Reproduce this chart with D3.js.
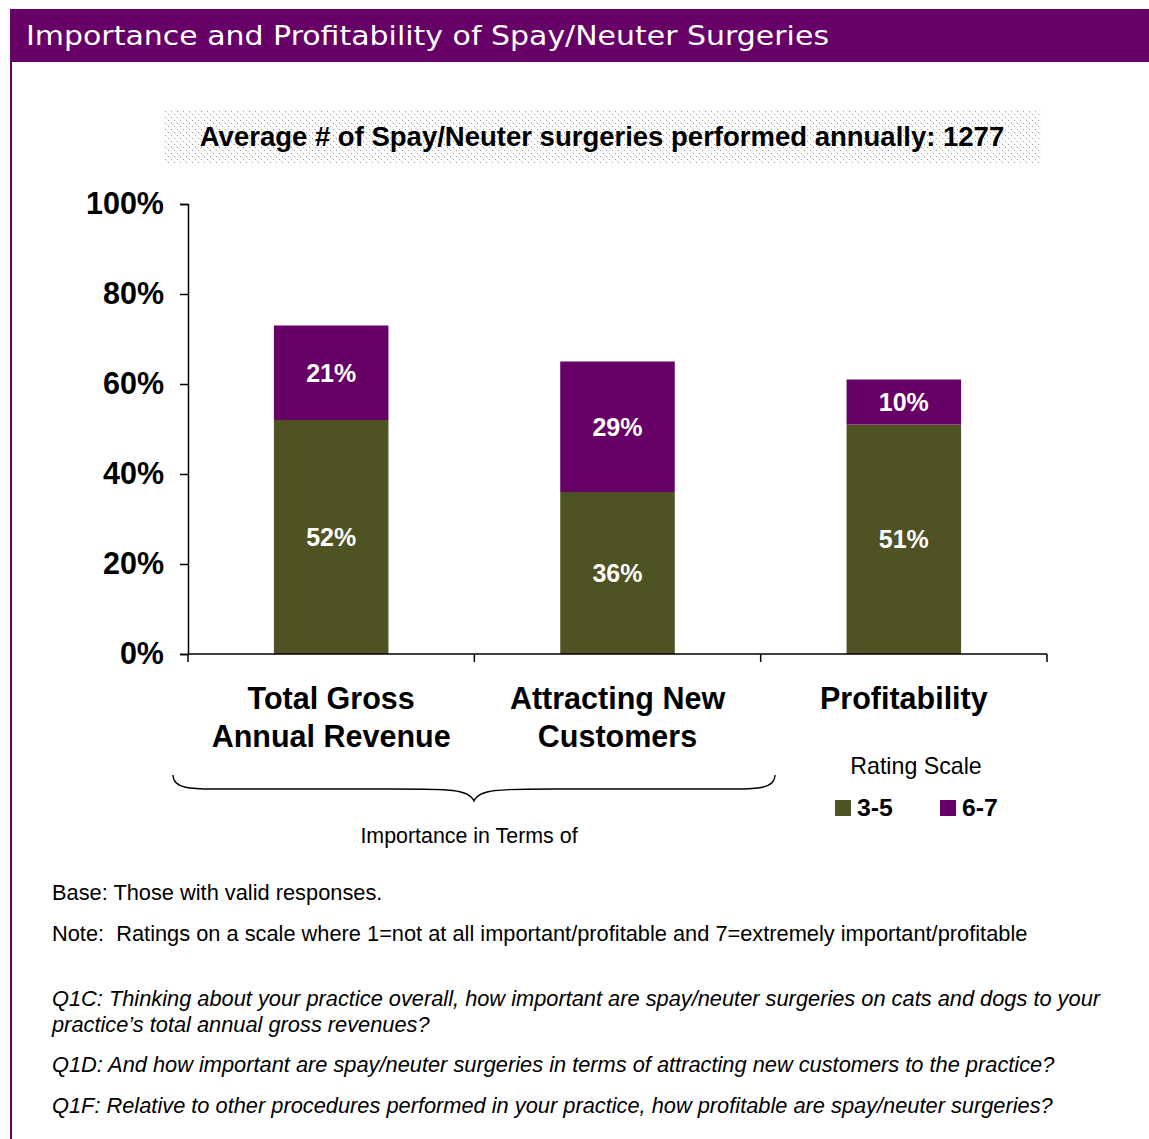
<!DOCTYPE html>
<html><head><meta charset="utf-8">
<script src="https://cdn.jsdelivr.net/npm/d3@7"></script>
<style>
html,body{margin:0;padding:0;background:#fff;}
svg{display:block;}
text{white-space:pre;}
</style></head>
<body>
<script>
const title = "Importance and Profitability of Spay/Neuter Surgeries";
const subtitle = "Average # of Spay/Neuter surgeries performed annually: 1277";
const categories = [["Total Gross","Annual Revenue"],["Attracting New","Customers"],["Profitability"]];
const categoryKeys = ["Total Gross Annual Revenue","Attracting New Customers","Profitability"];
const seriesNames = ["3-5","6-7"];
const values35 = [52,36,51];
const values67 = [21,29,10];
const yTicks = [0,20,40,60,80,100];
const legendTitle = "Rating Scale";
const braceLabel = "Importance in Terms of";
const notes = ["Base: Those with valid responses.",
  "Note:  Ratings on a scale where 1=not at all important/profitable and 7=extremely important/profitable"];
const questions = [
  ["Q1C: Thinking about your practice overall, how important are spay/neuter surgeries on cats and dogs to your","practice’s total annual gross revenues?"],
  ["Q1D: And how important are spay/neuter surgeries in terms of attracting new customers to the practice?"],
  ["Q1F: Relative to other procedures performed in your practice, how profitable are spay/neuter surgeries?"]
];
const colors = ["#4f5222","#660066"];

const W=1149,H=1139;
const svg=d3.select("body").append("svg").attr("width",W).attr("height",H);
const AR="'Liberation Sans', Arial, sans-serif";

// title bar
svg.append("rect").attr("x",10).attr("y",9).attr("width",W-10).attr("height",53).attr("fill","#660066");
svg.append("rect").attr("x",10).attr("y",62).attr("width",2).attr("height",H-62).attr("fill","#660066");
svg.append("text").attr("x",26).attr("y",45).attr("fill","#fff")
  .style("font-family","'DejaVu Sans', Tahoma, sans-serif").style("font-size","27px")
  .attr("textLength",803).attr("lengthAdjust","spacingAndGlyphs").text(title);

// subtitle box with dotted pattern
const defs=svg.append("defs");
const pat=defs.append("pattern").attr("id","dots").attr("patternUnits","userSpaceOnUse").attr("width",6).attr("height",6);
pat.append("rect").attr("width",6).attr("height",6).attr("fill","#fff");
pat.append("rect").attr("x",0).attr("y",0).attr("width",1).attr("height",1).attr("fill","#9a9a9a");
pat.append("rect").attr("x",3).attr("y",3).attr("width",1).attr("height",1).attr("fill","#9a9a9a");
pat.append("rect").attr("x",1.5).attr("y",1.5).attr("width",1).attr("height",1).attr("fill","#d0d0d0");
pat.append("rect").attr("x",4.5).attr("y",4.5).attr("width",1).attr("height",1).attr("fill","#d0d0d0");
svg.append("rect").attr("x",164).attr("y",110).attr("width",877).attr("height",53).attr("fill","url(#dots)");
svg.append("text").attr("x",602).attr("y",146).attr("text-anchor","middle")
  .style("font-family",AR).style("font-weight","bold").style("font-size","27.5px").attr("fill","#000").text(subtitle);

// scales
const y=d3.scaleLinear().domain([0,100]).range([654,204]);
const x=d3.scaleBand().domain(categoryKeys).range([188,1047]).paddingInner(0.6).paddingOuter(0.3);

// y axis
const yAxis=svg.append("g").attr("transform","translate(188,0)")
  .call(d3.axisLeft(y).tickValues(yTicks).tickSize(8).tickPadding(16).tickFormat(d=>d+"%"));
yAxis.select(".domain").attr("stroke","#000").attr("stroke-width",1.5);
yAxis.selectAll(".tick line").attr("stroke","#000").attr("stroke-width",1.5);
yAxis.selectAll(".tick text").style("font-family",AR).style("font-weight","bold").style("font-size","30.5px").attr("fill","#000");

// bars
const g=svg.append("g");
categoryKeys.forEach((k,i)=>{
  const x0=x(k), bw=x.bandwidth();
  const lo=values35[i], hi=values67[i];
  g.append("rect").attr("x",x0).attr("width",bw).attr("y",y(lo)).attr("height",y(0)-y(lo)).attr("fill",colors[0]);
  g.append("rect").attr("x",x0).attr("width",bw).attr("y",y(lo+hi)).attr("height",y(lo)-y(lo+hi)).attr("fill",colors[1]);
  g.append("text").attr("x",x0+bw/2).attr("y",(y(0)+y(lo))/2).attr("dy","0.35em").attr("text-anchor","middle")
    .style("font-family",AR).style("font-weight","bold").style("font-size","25px").attr("fill","#fff").text(lo+"%");
  g.append("text").attr("x",x0+bw/2).attr("y",(y(lo)+y(lo+hi))/2).attr("dy","0.35em").attr("text-anchor","middle")
    .style("font-family",AR).style("font-weight","bold").style("font-size","25px").attr("fill","#fff").text(hi+"%");
});

// x axis line & ticks
svg.append("line").attr("x1",188).attr("x2",1047).attr("y1",y(0)).attr("y2",y(0)).attr("stroke","#000").attr("stroke-width",1.5);
const step=x.step();
[0,1,2,3].forEach(j=>{
  const xx=188+j*step;
  svg.append("line").attr("x1",xx).attr("x2",xx).attr("y1",y(0)).attr("y2",y(0)+8).attr("stroke","#000").attr("stroke-width",1.5);
});

// category labels
categoryKeys.forEach((k,i)=>{
  const cx=x(k)+x.bandwidth()/2;
  const t=svg.append("text").attr("text-anchor","middle").style("font-family",AR).style("font-weight","bold")
    .style("font-size","30.5px").attr("fill","#000");
  categories[i].forEach((ln,j)=>{
    t.append("tspan").attr("x",cx).attr("y",709+j*38).text(ln);
  });
});

// brace
const bx0=173,bx1=775,bm=474,by0=775,by1=789,by2=801;
svg.append("path").attr("fill","none").attr("stroke","#000").attr("stroke-width",1.3)
  .attr("d",`M${bx0},${by0} C${bx0},${by1} ${bx0+20},${by1} ${bx0+40},${by1} L${bm-80},${by1} C${bm-25},${by1} ${bm-5},${by1} ${bm},${by2}
             C${bm+5},${by1} ${bm+25},${by1} ${bm+80},${by1} L${bx1-40},${by1} C${bx1-20},${by1} ${bx1},${by1} ${bx1},${by0}`);
svg.append("text").attr("x",469).attr("y",843).attr("text-anchor","middle").style("font-family",AR).style("font-size","21.4px").attr("fill","#000").text(braceLabel);

// legend
svg.append("text").attr("x",916).attr("y",774).attr("text-anchor","middle").style("font-family",AR).style("font-size","23.2px").attr("fill","#000").text(legendTitle);
const legX=[835,940];
seriesNames.forEach((s,i)=>{
  svg.append("rect").attr("x",legX[i]).attr("y",800).attr("width",16).attr("height",16).attr("fill",colors[i]);
  svg.append("text").attr("x",legX[i]+22).attr("y",816).style("font-family",AR).style("font-weight","bold").style("font-size","24.8px").attr("fill","#000").text(s);
});

// notes
notes.forEach((n,i)=>{
  svg.append("text").attr("x",52).attr("y",900+i*41).style("font-family",AR).style("font-size","21.8px").attr("fill","#000").text(n);
});
const qY=[1006,1072,1113];
questions.forEach((q,i)=>{
  q.forEach((ln,j)=>{
    svg.append("text").attr("x",52).attr("y",qY[i]+j*26).style("font-family",AR).style("font-style","italic").style("font-size","21.8px").attr("fill","#000").text(ln);
  });
});
</script>
</body></html>
